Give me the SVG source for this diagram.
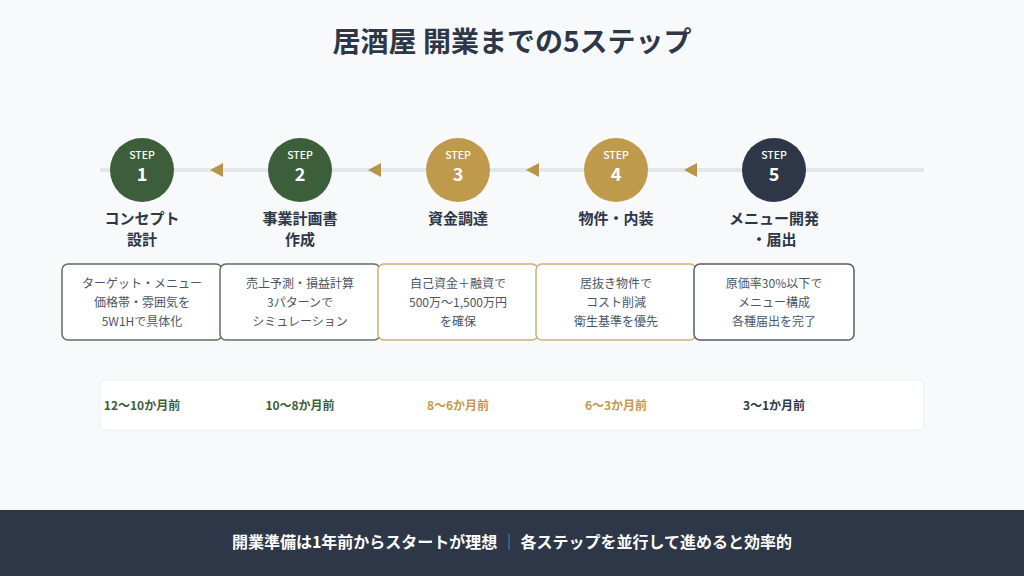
<svg xmlns="http://www.w3.org/2000/svg" width="1024" height="576" viewBox="0 0 1024 576">
<style>
text{font-family:"Noto Sans CJK JP","Noto Sans",sans-serif}
.title{font-size:28px;font-weight:700;fill:#2d3748}
.step{font-size:10.5px;fill:#ffffff;font-weight:500}
.num{font-size:18px;fill:#ffffff;font-weight:700}
.lbl{font-size:15px;font-weight:700;fill:#2d3748}
.box{fill:#ffffff;stroke-width:1.5}
.bt{font-size:12px;fill:#4a5568}
.tl{font-size:12px;font-weight:700}
.foot{font-size:16px;font-weight:700;fill:#ffffff}
.arr{fill:#b8944a}
</style>
<rect width="1024" height="576" fill="#f7f9fa"/>
<text class="title" x="512" y="52" text-anchor="middle">居酒屋 開業までの5ステップ</text>
<g id="connectors">
<line x1="100" y1="170" x2="924" y2="170" stroke="#e2e7ec" stroke-width="4"/>
<polygon class="arr" points="210,170 223,163 223,177"/>
<polygon class="arr" points="368,170 381,163 381,177"/>
<polygon class="arr" points="526,170 539,163 539,177"/>
<polygon class="arr" points="684,170 697,163 697,177"/>
</g>
<g id="step1">
<circle cx="142" cy="170" r="32" fill="#3c5e3b"/>
<text class="step" x="142" y="159" text-anchor="middle">STEP</text>
<text class="num" x="142" y="181" text-anchor="middle">1</text>
<text class="lbl" x="142" y="224" text-anchor="middle">コンセプト</text>
<text class="lbl" x="142" y="245" text-anchor="middle">設計</text>
<rect class="box" x="62" y="264" width="160" height="76" rx="6" stroke="#5b725e"/>
<text class="bt" x="142" y="288" text-anchor="middle">ターゲット・メニュー</text>
<text class="bt" x="142" y="307" text-anchor="middle">価格帯・雰囲気を</text>
<text class="bt" x="142" y="326" text-anchor="middle">5W1Hで具体化</text>
</g>
<g id="step2">
<circle cx="300" cy="170" r="32" fill="#3c5e3b"/>
<text class="step" x="300" y="159" text-anchor="middle">STEP</text>
<text class="num" x="300" y="181" text-anchor="middle">2</text>
<text class="lbl" x="300" y="224" text-anchor="middle">事業計画書</text>
<text class="lbl" x="300" y="245" text-anchor="middle">作成</text>
<rect class="box" x="220" y="264" width="160" height="76" rx="6" stroke="#5b725e"/>
<text class="bt" x="300" y="288" text-anchor="middle">売上予測・損益計算</text>
<text class="bt" x="300" y="307" text-anchor="middle">3パターンで</text>
<text class="bt" x="300" y="326" text-anchor="middle">シミュレーション</text>
</g>
<g id="step3">
<circle cx="458" cy="170" r="32" fill="#c09a4c"/>
<text class="step" x="458" y="159" text-anchor="middle">STEP</text>
<text class="num" x="458" y="181" text-anchor="middle">3</text>
<text class="lbl" x="458" y="224" text-anchor="middle">資金調達</text>
<rect class="box" x="378" y="264" width="160" height="76" rx="6" stroke="#cdb07a"/>
<text class="bt" x="458" y="288" text-anchor="middle">自己資金＋融資で</text>
<text class="bt" x="458" y="307" text-anchor="middle">500万〜1,500万円</text>
<text class="bt" x="458" y="326" text-anchor="middle">を確保</text>
</g>
<g id="step4">
<circle cx="616" cy="170" r="32" fill="#c09a4c"/>
<text class="step" x="616" y="159" text-anchor="middle">STEP</text>
<text class="num" x="616" y="181" text-anchor="middle">4</text>
<text class="lbl" x="616" y="224" text-anchor="middle">物件・内装</text>
<rect class="box" x="536" y="264" width="160" height="76" rx="6" stroke="#cdb07a"/>
<text class="bt" x="616" y="288" text-anchor="middle">居抜き物件で</text>
<text class="bt" x="616" y="307" text-anchor="middle">コスト削減</text>
<text class="bt" x="616" y="326" text-anchor="middle">衛生基準を優先</text>
</g>
<g id="step5">
<circle cx="774" cy="170" r="32" fill="#2d3748"/>
<text class="step" x="774" y="159" text-anchor="middle">STEP</text>
<text class="num" x="774" y="181" text-anchor="middle">5</text>
<text class="lbl" x="774" y="224" text-anchor="middle">メニュー開発</text>
<text class="lbl" x="774" y="245" text-anchor="middle">・届出</text>
<rect class="box" x="694" y="264" width="160" height="76" rx="6" stroke="#555b66"/>
<text class="bt" x="774" y="288" text-anchor="middle">原価率30%以下で</text>
<text class="bt" x="774" y="307" text-anchor="middle">メニュー構成</text>
<text class="bt" x="774" y="326" text-anchor="middle">各種届出を完了</text>
</g>
<g id="timeline">
<rect x="100" y="380" width="824" height="50" rx="5" fill="#ffffff" stroke="#eceff3" stroke-width="1"/>
<text class="tl" x="142" y="410" text-anchor="middle" fill="#3c5e3b">12〜10か月前</text>
<text class="tl" x="300" y="410" text-anchor="middle" fill="#3c5e3b">10〜8か月前</text>
<text class="tl" x="458" y="410" text-anchor="middle" fill="#c09a4c">8〜6か月前</text>
<text class="tl" x="616" y="410" text-anchor="middle" fill="#c09a4c">6〜3か月前</text>
<text class="tl" x="774" y="410" text-anchor="middle" fill="#2d3748">3〜1か月前</text>
</g>
<g id="footer">
<rect x="0" y="510" width="1024" height="66" fill="#2d3748"/>
<text class="foot" x="512" y="548" text-anchor="middle">開業準備は1年前からスタートが理想 <tspan fill="#8a93a3" font-weight="400">｜</tspan> 各ステップを並行して進めると効率的</text>
</g>
</svg>
